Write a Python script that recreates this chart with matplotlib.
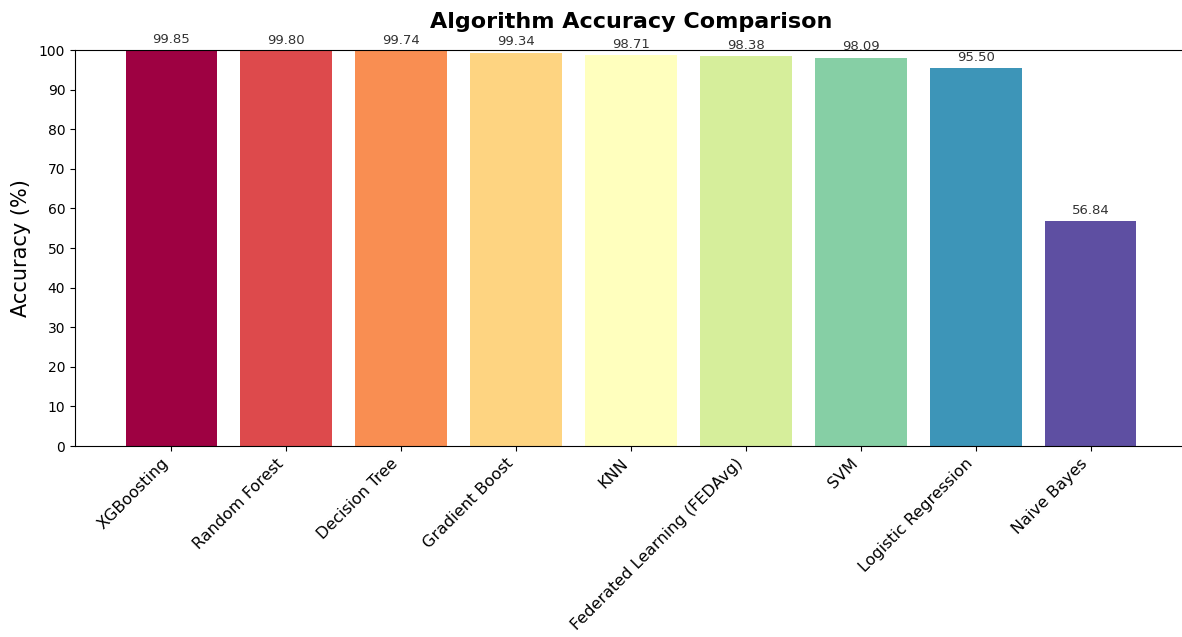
import numpy as np
import matplotlib
matplotlib.use("Agg")
import matplotlib.pyplot as plt

algorithms = [
    "XGBoosting", "Random Forest", "Decision Tree", "Gradient Boost", "KNN",
    "Federated Learning (FEDAvg)", "SVM", "Logistic Regression", "Naive Bayes",
]
accuracy = [99.85, 99.80, 99.74, 99.34, 98.71, 98.38, 98.09, 95.50, 56.84]
y_ticks = list(range(0, 101, 10))

W, H, DPI = 1182, 637, 100
fig = plt.figure(figsize=(W / DPI, H / DPI), dpi=DPI)
left, right, top, bottom = 75, 1187, 50, 446
ax = fig.add_axes([left / W, (H - bottom) / H, (right - left) / W, (bottom - top) / H])

colors = plt.cm.Spectral(np.linspace(0, 1, len(algorithms)))
x = np.arange(len(algorithms))
bars = ax.bar(x, accuracy, width=0.8, color=colors)
ax.bar_label(bars, labels=[f"{v:.2f}" for v in accuracy], padding=3,
             fontsize=9.5, color="#333333")

ax.set_ylim(0, 100)
ax.set_yticks(y_ticks)
ax.set_xticks(x)
ax.set_xticklabels(algorithms, rotation=45, ha="right", fontsize=11.5)
ax.tick_params(axis="y", labelsize=10)
ax.set_ylabel("Accuracy (%)", fontsize=15, labelpad=6)
ax.set_title("Algorithm Accuracy Comparison", fontsize=16, fontweight="bold", pad=16)

fig.savefig("out.png", dpi=DPI)
